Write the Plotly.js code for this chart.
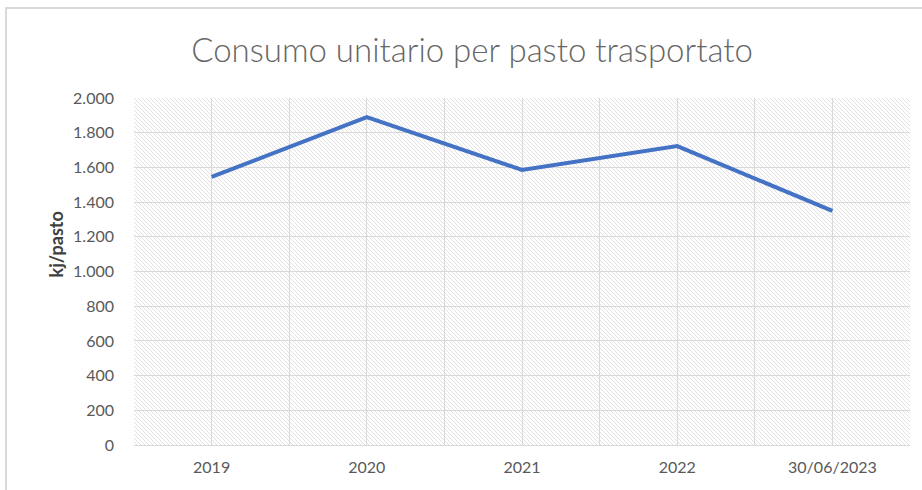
<!DOCTYPE html>
<html>
<head>
<meta charset="utf-8">
<script src="https://cdn.plot.ly/plotly-3.0.1.min.js"></script>
<style>
html,body{margin:0;padding:0;background:#fff;}
#frame{position:absolute;left:5px;top:7px;width:917px;height:483px;border-top:2px solid #d9d9d9;border-left:2px solid #d9d9d9;box-sizing:border-box;}
#chart{position:absolute;left:0;top:0;width:922px;height:490px;}
</style>
</head>
<body>
<div id="frame"></div>
<div id="chart"></div>
<script>
const categories = ['2019', '2020', '2021', '2022', '30/06/2023'];
const consumo = [1545, 1890, 1585, 1723, 1349];
const yTicks = [0, 200, 400, 600, 800, 1000, 1200, 1400, 1600, 1800, 2000];
const chartTitle = 'Consumo unitario per pasto trasportato';
const yTitle = 'kj/pasto';

const xIdx = categories.map((c, i) => i);

const plotW = 776, plotH = 347;
const svg = `<svg xmlns="http://www.w3.org/2000/svg" width="${plotW}" height="${plotH}"><defs><pattern id="p" width="4" height="4" patternUnits="userSpaceOnUse"><path d="M-1,-1 L5,5 M-1,3 L1,5 M3,-1 L5,1" stroke="#e2e2e2" stroke-width="1"/></pattern></defs><rect width="100%" height="100%" fill="url(#p)"/></svg>`;
const hatch = 'data:image/svg+xml;charset=utf-8,' + encodeURIComponent(svg);

const trace = {
  x: xIdx,
  y: consumo,
  type: 'scatter',
  mode: 'lines',
  line: {color: '#4472C4', width: 4},
  hoverinfo: 'skip'
};

const layout = {
  width: 922, height: 490,
  margin: {l: 134, r: 12, t: 98, b: 45},
  paper_bgcolor: 'rgba(0,0,0,0)',
  plot_bgcolor: '#ffffff',
  separators: ',.',
  showlegend: false,
  font: {family: 'Lato, "Open Sans", sans-serif', color: '#595959'},
  title: {
    text: chartTitle,
    font: {size: 33, color: '#666666', family: 'Lato, "Open Sans", sans-serif', weight: 300},
    x: 0.512, xanchor: 'center', xref: 'container',
    y: 0.897, yanchor: 'middle'
  },
  xaxis: {
    range: [-0.5, categories.length - 0.5],
    tickvals: xIdx,
    ticktext: categories,
    showgrid: true, gridcolor: '#d9d9d9', gridwidth: 1,
    minor: {tick0: -0.5, dtick: 1, showgrid: true, gridcolor: '#d9d9d9', gridwidth: 1},
    zeroline: false,
    showline: true, linecolor: '#d9d9d9', linewidth: 1,
    ticks: '',
    ticklabelstandoff: 8,
    tickfont: {size: 16, color: '#595959'},
    fixedrange: true
  },
  yaxis: {
    range: [0, 2000],
    tickvals: yTicks,
    tickformat: ',d',
    showgrid: true, gridcolor: '#d9d9d9', gridwidth: 1,
    zeroline: false,
    showline: false,
    ticks: '',
    ticklabelstandoff: 19,
    tickfont: {size: 16, color: '#595959'},
    fixedrange: true
  },
  annotations: [{
    text: '<b>' + yTitle + '</b>',
    xref: 'paper', yref: 'paper',
    x: -0.1, y: 0.579,
    xanchor: 'center', yanchor: 'middle',
    textangle: -90,
    showarrow: false,
    font: {size: 18, color: '#404040', family: 'Lato, "Open Sans", sans-serif'}
  }],
  images: [{
    source: hatch,
    xref: 'paper', yref: 'paper',
    x: 0, y: 1, sizex: 1, sizey: 1,
    xanchor: 'left', yanchor: 'top',
    sizing: 'stretch', layer: 'below'
  }]
};

Plotly.newPlot('chart', [trace], layout, {staticPlot: true, displayModeBar: false});
</script>
</body>
</html>
